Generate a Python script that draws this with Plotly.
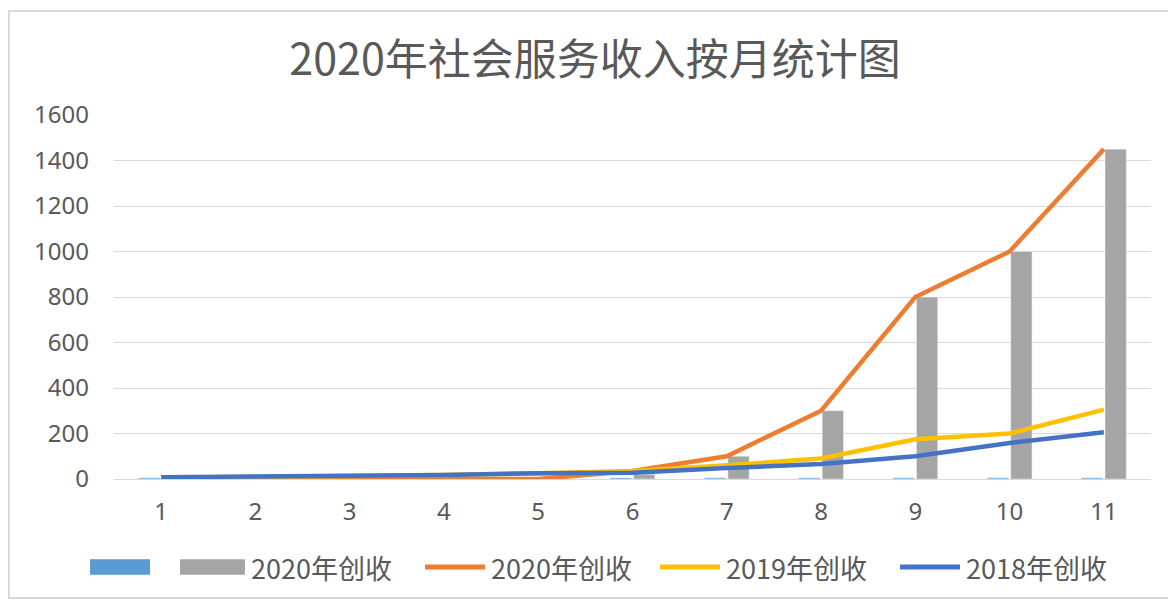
import plotly.graph_objects as go

months = ["1", "2", "3", "4", "5", "6", "7", "8", "9", "10", "11"]
blue_bar = [5, 5, 5, 5, 5, 5, 5, 5, 5, 5, 5]
bar_2020 = [0, 0, 0, 0, 0, 20, 100, 300, 800, 1000, 1450]
line_2020 = [0, 0, 0, 0, 0, 35, 100, 300, 800, 1000, 1450]
line_2019 = [5, 8, 12, 18, 25, 35, 60, 90, 175, 200, 305]
line_2018 = [8, 10, 15, 18, 25, 28, 48, 66, 100, 158, 205]
y_ticks = [0, 200, 400, 600, 800, 1000, 1200, 1400, 1600]

series_names = ["", "2020年创收", "2020年创收", "2019年创收", "2018年创收"]
series_colors = ["#5B9BD5", "#A5A5A5", "#ED7D31", "#FFC000", "#4472C4"]
series_kinds = ["bar", "bar", "line", "line", "line"]

FONT = "Noto Sans CJK SC, Noto Sans, sans-serif"
NUMFONT = "Noto Sans, sans-serif"
GREY_TXT = "#595959"

fig = go.Figure()
fig.add_trace(go.Bar(x=months, y=blue_bar, name=series_names[0], marker_color=series_colors[0]))
fig.add_trace(go.Bar(x=months, y=bar_2020, name=series_names[1], marker_color=series_colors[1]))
fig.add_trace(go.Scatter(x=months, y=line_2020, name=series_names[2], mode="lines",
                         line=dict(color=series_colors[2], width=4.5)))
fig.add_trace(go.Scatter(x=months, y=line_2019, name=series_names[3], mode="lines",
                         line=dict(color=series_colors[3], width=4.5)))
fig.add_trace(go.Scatter(x=months, y=line_2018, name=series_names[4], mode="lines",
                         line=dict(color=series_colors[4], width=4.5)))

# custom legend (layout decoration, paper coordinates)
legend_y = -0.2418
legend_sym = [(-0.0231, 0.0347), (0.0636, 0.1263), (0.2999, 0.3578), (0.5265, 0.5844), (0.7580, 0.8158)]
shapes = [dict(type="rect", xref="paper", yref="paper", x0=-0.1013, x1=1.022,
               y0=-0.327, y1=1.286, line=dict(color="#D9D9D9", width=2),
               fillcolor="rgba(0,0,0,0)", layer="below")]
annotations = []
for (x0, x1), name, color, kind in zip(legend_sym, series_names, series_colors, series_kinds):
    if kind == "bar":
        shapes.append(dict(type="rect", xref="paper", yref="paper", x0=x0, x1=x1,
                           y0=legend_y - 0.021, y1=legend_y + 0.021,
                           fillcolor=color, line=dict(width=0)))
    else:
        shapes.append(dict(type="line", xref="paper", yref="paper", x0=x0, x1=x1,
                           y0=legend_y, y1=legend_y, line=dict(color=color, width=5)))
    if name:
        annotations.append(dict(text=name, xref="paper", yref="paper", x=x1 + 0.004,
                                y=legend_y, xanchor="left", yanchor="middle", showarrow=False,
                                font=dict(family=FONT, size=27, color=GREY_TXT)))

fig.update_layout(
    width=1168, height=593,
    margin=dict(l=106, r=25, t=107, b=122),
    paper_bgcolor="white", plot_bgcolor="white",
    barmode="group", bargap=0.5, bargroupgap=0.1,
    showlegend=False,
    title=dict(text="2020年社会服务收入按月统计图", x=0.5026, xanchor="center",
               y=0.912, yanchor="middle", yref="container",
               font=dict(family=FONT, size=43, color=GREY_TXT)),
    font=dict(family=FONT, color=GREY_TXT),
    xaxis=dict(type="category", showgrid=False, showline=False, ticks="",
               tickfont=dict(family=NUMFONT, size=24, color=GREY_TXT),
               ticklabelstandoff=16),
    yaxis=dict(range=[0, 1600], tickvals=y_ticks, showgrid=True, gridcolor="#D9D9D9",
               gridwidth=1, zeroline=True, zerolinecolor="#D9D9D9", zerolinewidth=1,
               showline=False, ticks="",
               tickfont=dict(family=NUMFONT, size=24, color=GREY_TXT),
               ticklabelstandoff=24),
    shapes=shapes,
    annotations=annotations,
)

fig.write_html("out.html")
